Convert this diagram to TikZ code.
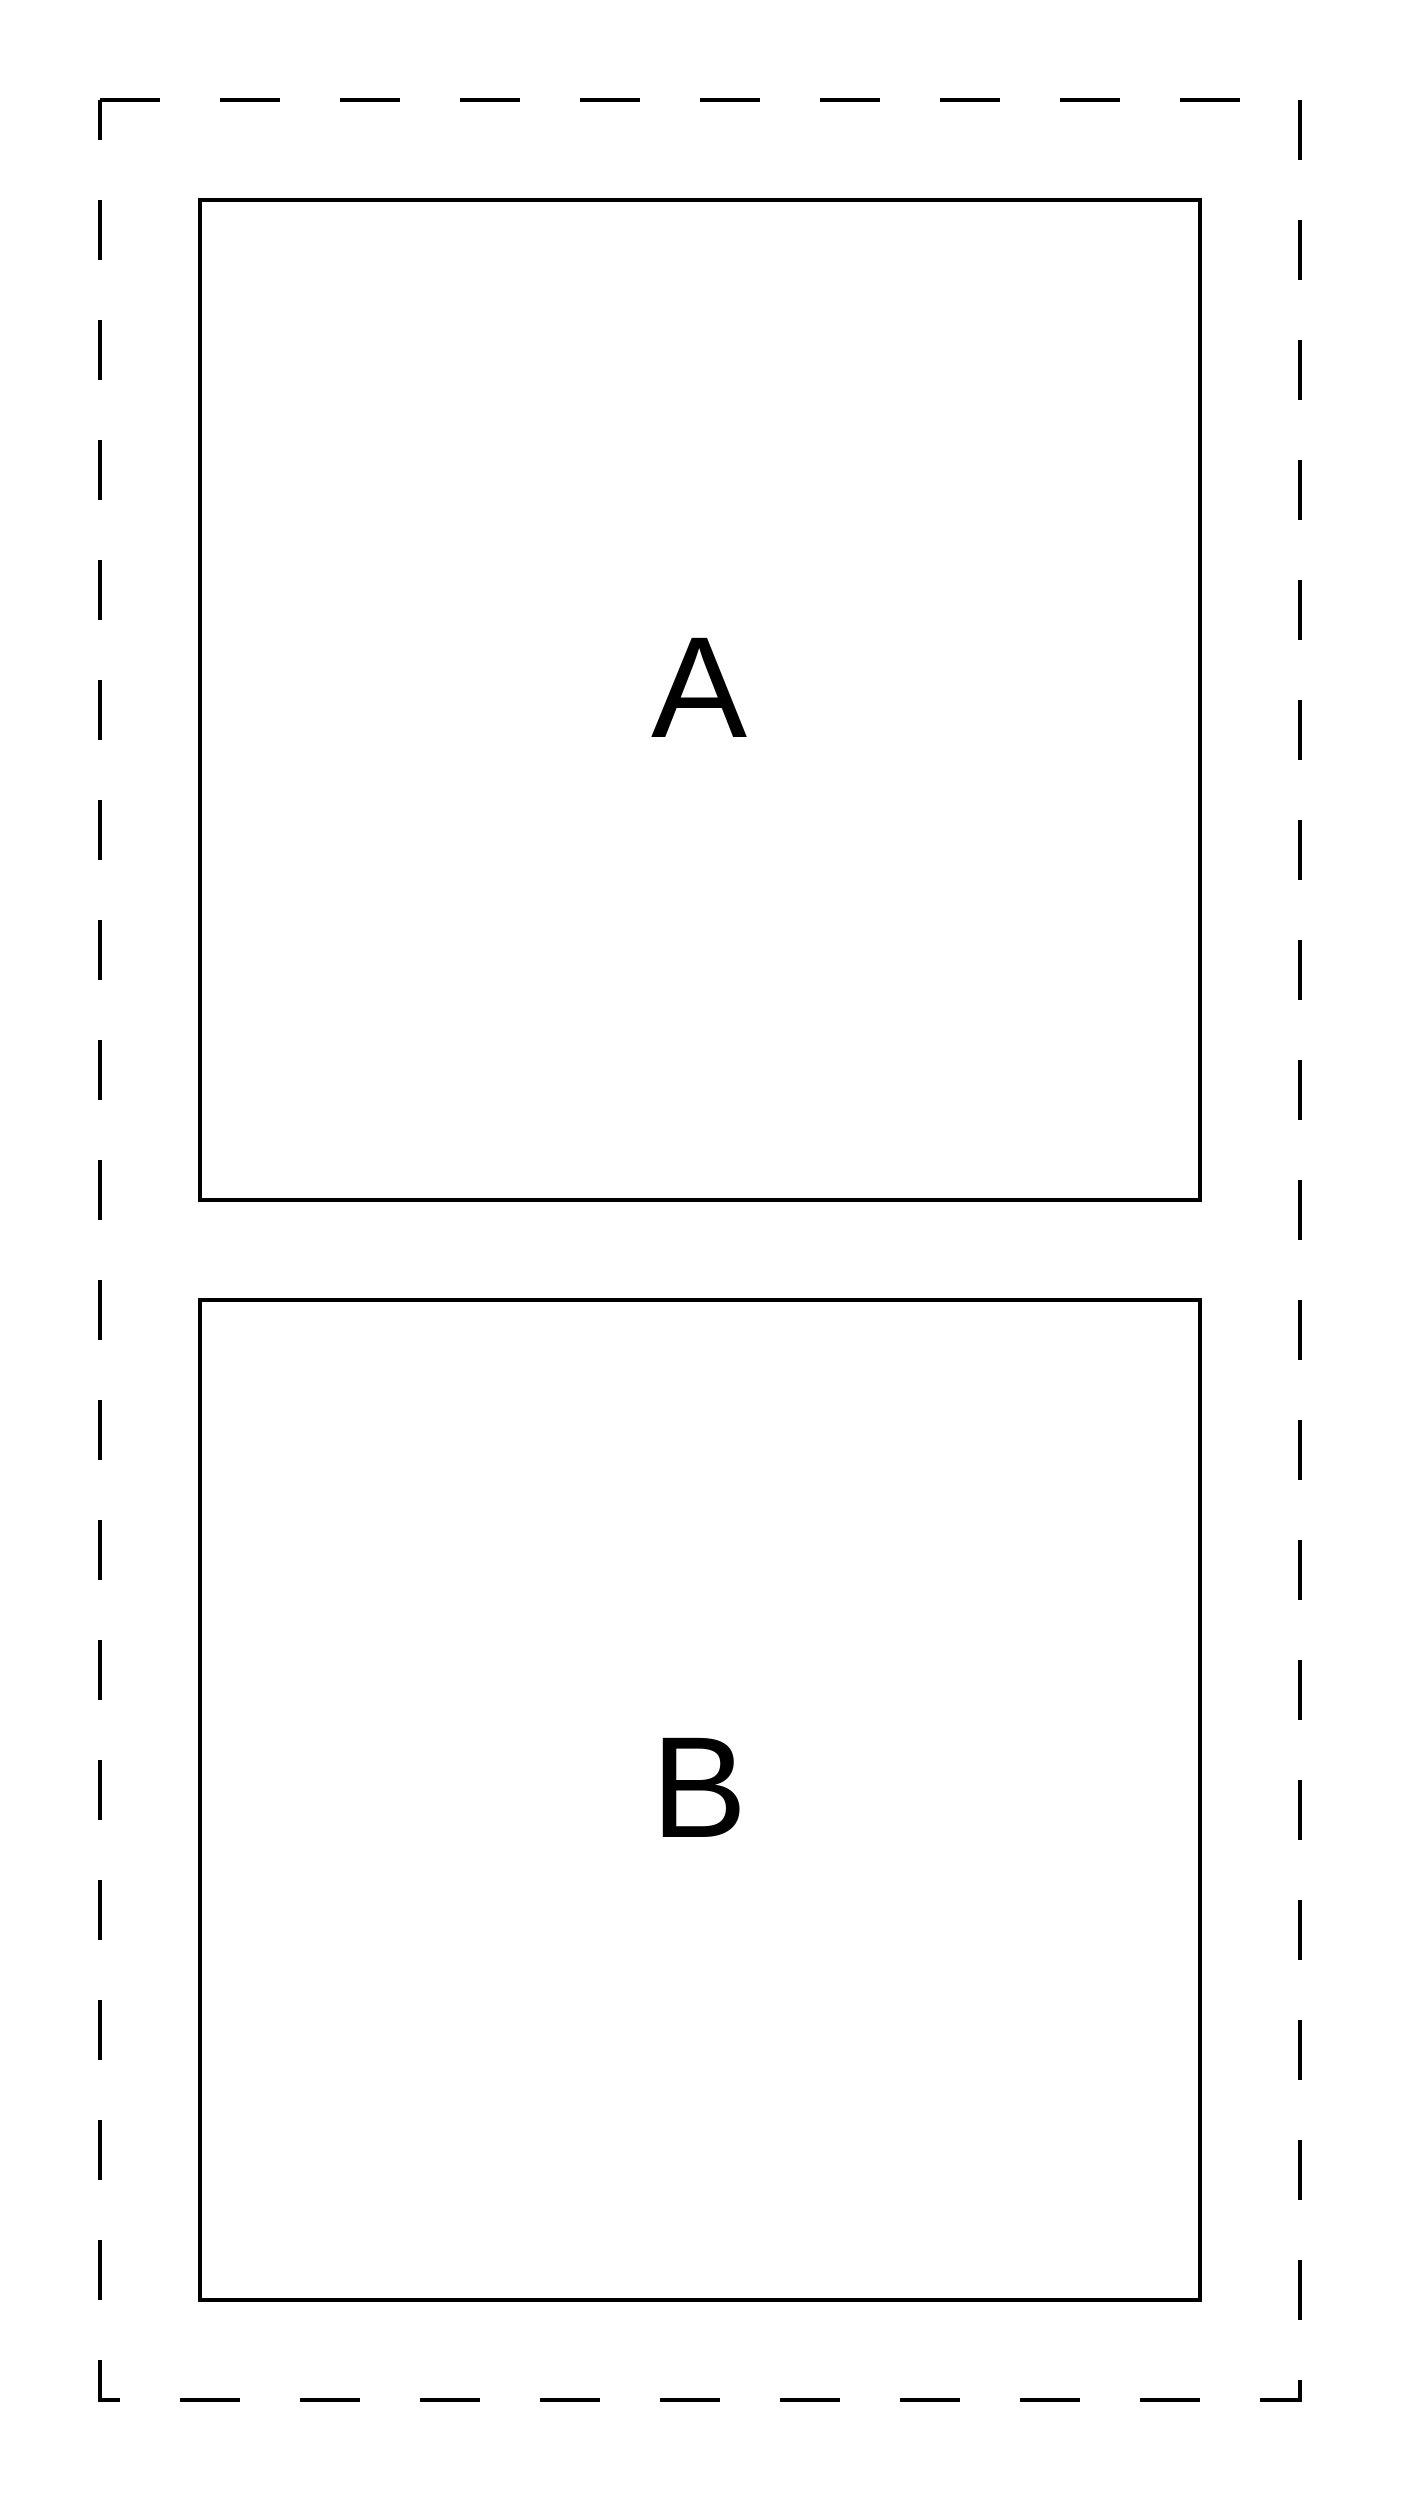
\documentclass[tikz,border=0pt]{standalone}
\usepackage{fontspec}
\setmainfont{Liberation Sans}
\usetikzlibrary{positioning}

\tikzset{
  panel/.style={draw, line width=1.4pt, minimum width=10cm, minimum height=10cm,
    inner sep=0pt, outer sep=0pt, text depth=0.24cm,
    font=\fontsize{41}{48}\selectfont},
  frame/.style={draw, line width=1.4pt, dash pattern=on 0.6cm off 0.6cm}
}

\begin{document}
\begin{tikzpicture}[x=1cm,y=1cm]
  \useasboundingbox (0,0) rectangle (14,25);
  \node[panel] (boxA) at (7,18) {A};
  \node[panel, below=1cm of boxA] (boxB) {B};
  \coordinate (frameNW) at ([xshift=-1cm,yshift=1cm]boxA.north west);
  \coordinate (frameSE) at ([xshift=1cm,yshift=-1cm]boxB.south east);
  \draw[frame] (frameNW) -- (frameNW -| frameSE) -- (frameSE)
    -- (frameSE -| frameNW) -- cycle;
\end{tikzpicture}
\end{document}
